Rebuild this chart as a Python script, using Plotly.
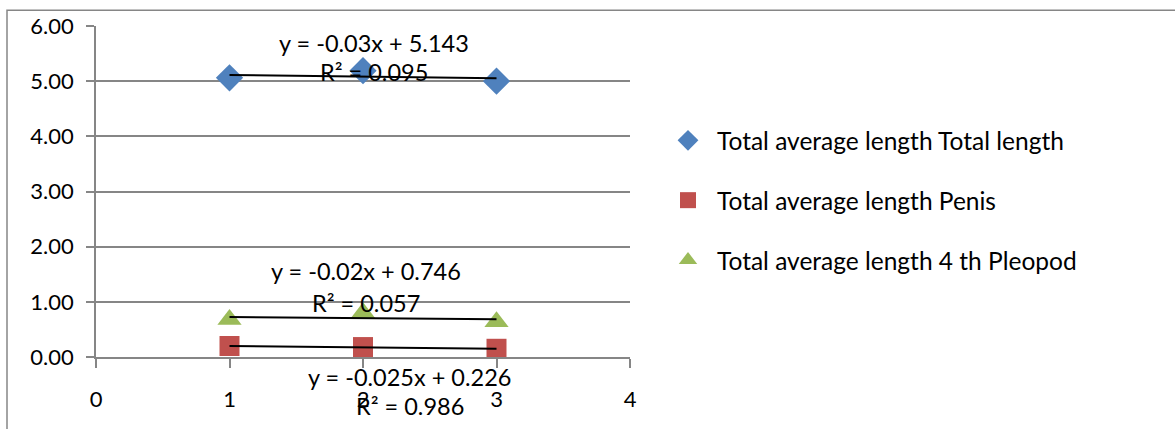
import numpy as np
import plotly.graph_objects as go

# Sampling points (x) and measured averages for each series
x_vals = [1, 2, 3]
total_length = [5.06, 5.19, 5.00]
penis_length = [0.199, 0.180, 0.149]
pleopod_length = [0.679, 0.800, 0.639]

series_names = [
    "Total average length Total length",
    "Total average length Penis",
    "Total average length 4 th Pleopod",
]
series_values = [total_length, penis_length, pleopod_length]
series_colors = ["#4F81BD", "#C0504D", "#9BBB59"]
series_symbols = ["diamond", "square", "triangle-up"]
series_sizes = [21, 20, 21]

# Linear trendline coefficients shown in the equation labels
trend_slopes = [-0.03, -0.025, -0.02]
trend_intercepts = [5.143, 0.226, 0.746]
trend_r2 = ["0.095", "0.986", "0.057"]
# Where each equation label sits (x, y of equation, y of R², in data units)
label_pos = [(2.08, 5.69, 5.16), (2.35, -0.36, -0.89), (2.02, 1.56, 0.97)]

x_ticks = [0, 1, 2, 3, 4]
y_ticks = [0, 1, 2, 3, 4, 5, 6]

FONT = "Lato"
GRID = "#868686"

X_MIN, X_MAX = 0, 4
Y_MIN, Y_MAX = 0, 6

fig = go.Figure()

for i, name in enumerate(series_names):
    fig.add_trace(go.Scatter(
        x=x_vals, y=series_values[i], mode="markers", name=name,
        legendgroup=f"g{i}",
        marker=dict(symbol=series_symbols[i], size=series_sizes[i],
                    color=series_colors[i], line=dict(width=0)),
        cliponaxis=False,
    ))


def to_paper_x(v):
    return (v - X_MIN) / (X_MAX - X_MIN)


def to_paper_y(v):
    return (v - Y_MIN) / (Y_MAX - Y_MIN)


annotations = []
for i in range(3):
    xs = np.array([x_vals[0], x_vals[-1]], dtype=float)
    ys = trend_slopes[i] * xs + trend_intercepts[i]
    fig.add_trace(go.Scatter(
        x=xs, y=ys, mode="lines", showlegend=False, hoverinfo="skip",
        line=dict(color="black", width=2),
    ))
    lx, ly_eq, ly_r2 = label_pos[i]
    eq = f"y = {trend_slopes[i]:g}x + {trend_intercepts[i]:g}"
    for txt, ly in ((eq, ly_eq), (f"R² = {trend_r2[i]}", ly_r2)):
        annotations.append(dict(
            x=to_paper_x(lx), y=to_paper_y(ly), xref="paper", yref="paper",
            xanchor="center", yanchor="middle",
            text=txt, showarrow=False,
            font=dict(family=FONT, size=23.5, color="black"),
        ))

W, H = 1175, 429
L, R, T, B = 96, W - 630, 22, H - 357
pw, ph = W - L - R, H - T - B

fig.update_layout(
    width=W, height=H,
    margin=dict(l=L, r=R, t=T, b=B, pad=0),
    paper_bgcolor="white", plot_bgcolor="white",
    font=dict(family=FONT, size=22, color="black"),
    annotations=annotations,
    showlegend=True,
    legend=dict(
        x=(659 - L) / pw, y=(H - B - 115) / ph, xanchor="left", yanchor="top",
        traceorder="grouped", tracegroupgap=25, itemwidth=48,
        font=dict(family=FONT, size=24.5, color="black"),
        itemsizing="trace", bgcolor="rgba(0,0,0,0)",
    ),
    shapes=[dict(
        type="rect", xref="paper", yref="paper",
        x0=(7 - L) / pw, x1=3.0, y0=-1.0, y1=(H - B - 6) / ph,
        line=dict(color="#868686", width=1.5), layer="below",
    )],
)

fig.update_xaxes(
    range=[X_MIN, X_MAX], tickvals=x_ticks, ticktext=[str(t) for t in x_ticks],
    showgrid=False, zeroline=False,
    showline=True, linecolor=GRID, linewidth=1.5,
    ticks="outside", ticklen=9, tickcolor=GRID, tickwidth=1.5,
    ticklabelstandoff=13,
    tickfont=dict(family=FONT, size=22, color="black"),
)
fig.update_yaxes(
    range=[Y_MIN, Y_MAX], tickvals=y_ticks, ticktext=[f"{t:.2f}" for t in y_ticks],
    showgrid=True, gridcolor=GRID, gridwidth=1.5, zeroline=False,
    showline=True, linecolor=GRID, linewidth=1.5,
    ticks="outside", ticklen=8, tickcolor=GRID, tickwidth=1.5,
    ticklabelstandoff=8,
    tickfont=dict(family=FONT, size=22, color="black"),
)

fig.write_html("out.html")
